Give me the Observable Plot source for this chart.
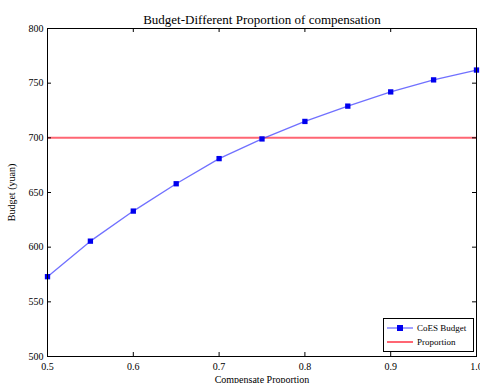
<!DOCTYPE html>
<html><head><meta charset="utf-8">
<script src="https://cdn.jsdelivr.net/npm/d3@7"></script>
<script src="https://cdn.jsdelivr.net/npm/@observablehq/plot@0.6"></script>
<style>
body{margin:0;background:#fff;font-family:"Liberation Serif",serif;}
#wrap{position:relative;width:480px;height:383px;}
#legend{position:absolute;left:383px;top:318px;width:91px;height:34px;border:1px solid #000;background:#fff;font-size:9px;box-sizing:border-box;padding:2px 3px;line-height:14px;}
#legend div{display:flex;align-items:center;white-space:nowrap;}
#legend svg{margin-right:4px;}
</style></head><body>
<div id="wrap"></div>
<script>
const proportions = [0.5,0.55,0.6,0.65,0.7,0.75,0.8,0.85,0.9,0.95,1.0];
const budget = [573,605.5,633,658,681,699,715,729,742,753,762];
const proportionLine = 700;
const xTicks = [0.5,0.6,0.7,0.8,0.9,1.0];
const yTicks = [500,550,600,650,700,750,800];
const title = "Budget-Different Proportion of compensation";
const xLabel = "Compensate Proportion";
const yLabel = "Budget (yuan)";
const seriesNames = ["CoES Budget","Proportion"];

const data = proportions.map((p,i)=>({p, b: budget[i]}));
const W = 480, H = 383, ml = 47, mr = 4, mt = 28, mb = 27;
const iw = W-ml-mr, ih = H-mt-mb, tl = 4;

const chart = Plot.plot({
  width: W, height: H,
  marginLeft: ml, marginRight: mr, marginTop: mt, marginBottom: mb,
  style: {fontFamily: "Liberation Serif, serif", fontSize: "10px", background: "#fff", color: "#000"},
  x: {domain: [0.5,1.0]},
  y: {domain: [500,800]},
  marks: [
    Plot.ruleY([proportionLine], {stroke: "#ff3344", strokeOpacity: 0.75, strokeWidth: 2}),
    Plot.line(data, {x: "p", y: "b", stroke: "#3333ff", strokeOpacity: 0.7, strokeWidth: 1.3}),
    Plot.dot(data, {x: "p", y: "b", symbol: "square", r: 3, fill: "#0000ee", stroke: "none"}),
    Plot.tickY(yTicks, {y: d=>d, insetRight: iw - tl, stroke: "#000"}),
    Plot.tickY(yTicks, {y: d=>d, insetLeft: iw - tl, stroke: "#000"}),
    Plot.tickX(xTicks, {x: d=>d, insetTop: ih - tl, stroke: "#000"}),
    Plot.tickX(xTicks, {x: d=>d, insetBottom: ih - tl, stroke: "#000"}),
    Plot.frame({stroke: "#000", strokeWidth: 1}),
    Plot.axisX({ticks: xTicks, tickSize: 0, tickPadding: 6, tickFormat: d=>d.toFixed(1),
      label: xLabel, labelAnchor: "center", labelOffset: 26, labelArrow: "none"}),
    Plot.axisY({ticks: yTicks, tickSize: 0, tickPadding: 4,
      label: yLabel, labelAnchor: "center", labelOffset: 40, labelArrow: "none"}),
    Plot.text([title], {text: d=>d, frameAnchor: "top", lineAnchor: "middle", dy: -9, fontSize: 13})
  ]
});
const wrap = document.getElementById("wrap");
wrap.appendChild(chart);
const lg = document.createElement("div");
lg.id = "legend";
lg.innerHTML =
  `<div><svg width="26" height="8"><line x1="0" y1="4" x2="26" y2="4" stroke="#3333ff" stroke-opacity="0.7" stroke-width="1.3"/><rect x="10" y="1" width="6" height="6" fill="#0000ee"/></svg>${seriesNames[0]}</div>` +
  `<div><svg width="26" height="8"><line x1="0" y1="4" x2="26" y2="4" stroke="#ff3344" stroke-opacity="0.75" stroke-width="2"/></svg>${seriesNames[1]}</div>`;
wrap.appendChild(lg);
</script>
</body></html>
